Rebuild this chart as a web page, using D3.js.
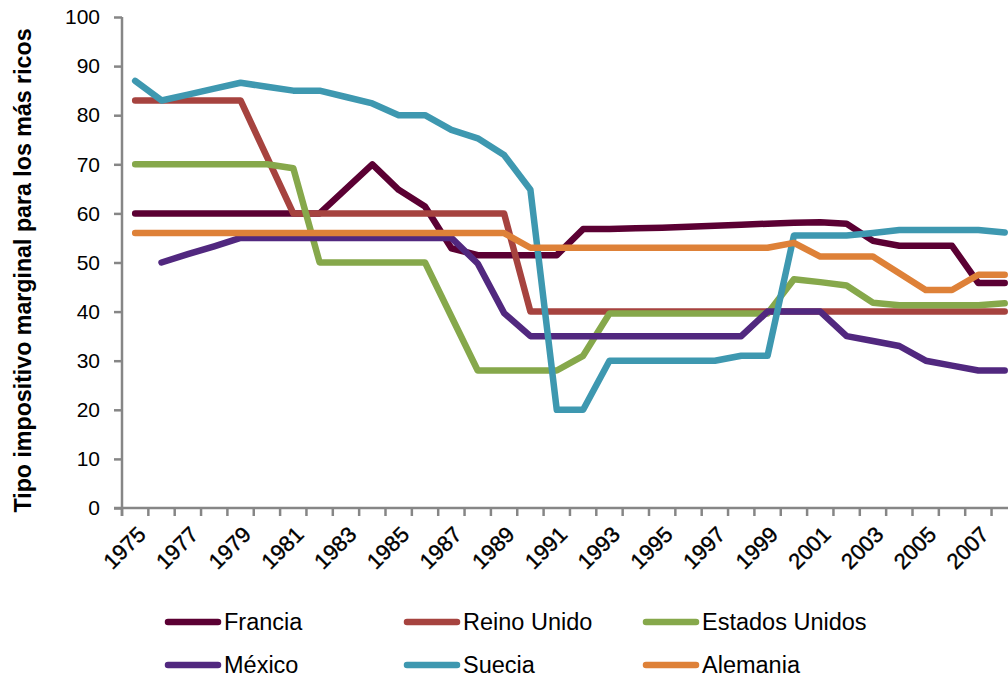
<!DOCTYPE html>
<html>
<head>
<meta charset="utf-8">
<script src="https://cdn.jsdelivr.net/npm/d3@7"></script>
<style>
  html, body { margin: 0; padding: 0; background: #fff; }
  svg { display: block; font-family: "Liberation Sans", Arial, sans-serif; }
</style>
</head>
<body>
<svg id="chart" width="1008" height="677"></svg>
<script>
var years = d3.range(1975, 2009);

// valores (tipo marginal maximo, %)
var francia = [60, 60, 60, 60, 60, 60, 60, 60, 65, 70, 64.8, 61.4, 52.9, 51.5, 51.5, 51.5, 51.5,
  56.8, 56.8, 57, 57.1, 57.3, 57.5, 57.7, 57.9, 58.1, 58.2, 57.9, 54.4, 53.4, 53.4, 53.4, 45.8, 45.8];
var reinoUnido = [83, 83, 83, 83, 83, 71.5, 60, 60, 60, 60, 60, 60, 60, 60, 60,
  40, 40, 40, 40, 40, 40, 40, 40, 40, 40, 40, 40, 40, 40, 40, 40, 40, 40, 40];
var estadosUnidos = [70, 70, 70, 70, 70, 70, 69.2, 50, 50, 50, 50, 50, 39, 28, 28, 28, 28,
  31, 39.6, 39.6, 39.6, 39.6, 39.6, 39.6, 39.6, 46.6, 46, 45.3, 41.8, 41.3, 41.3, 41.3, 41.3, 41.7];
var mexico = [null, 50, 51.7, 53.3, 55, 55, 55, 55, 55, 55, 55, 55, 55, 49.8, 39.7,
  35, 35, 35, 35, 35, 35, 35, 35, 35, 40, 40, 40, 35, 34, 33, 30, 29, 28, 28];
var suecia = [87, 83, 84.2, 85.4, 86.6, 85.8, 85, 85, 83.7, 82.4, 80, 80, 77, 75.3, 71.9, 64.8,
  20, 20, 30, 30, 30, 30, 30, 31, 31, 55.5, 55.5, 55.5, 56, 56.6, 56.6, 56.6, 56.6, 56.1];
var alemania = [56, 56, 56, 56, 56, 56, 56, 56, 56, 56, 56, 56, 56, 56, 56,
  53, 53, 53, 53, 53, 53, 53, 53, 53, 53, 54, 51.2, 51.2, 51.2, 47.8, 44.4, 44.4, 47.5, 47.5];

var seriesNames = ['Francia', 'Reino Unido', 'Estados Unidos', 'México', 'Suecia', 'Alemania'];
var seriesColors = ['#5b0033', '#a6433f', '#86a84b', '#51287f', '#3e98b0', '#de8138'];
var yTicks = d3.range(0, 101, 10);

(function () {
  var series = [francia, reinoUnido, estadosUnidos, mexico, suecia, alemania].map(function (vals, i) {
    return { name: seriesNames[i], color: seriesColors[i], values: vals };
  });

  var svg = d3.select('#chart'),
      plotLeft = 122,
      plotTop = 17,
      plotBottom = 508,
      axisColor = '#868686';

  // la ultima categoria queda cortada por el borde derecho, como en el original
  var x = d3.scaleBand()
    .domain(years)
    .range([plotLeft, plotLeft + years.length * 26.35])
    .paddingInner(0).paddingOuter(0);

  var y = d3.scaleLinear()
    .domain([0, 100])
    .range([plotBottom, plotTop]);

  // eje y
  var yAxis = svg.append('g')
    .attr('transform', 'translate(' + plotLeft + ',0)')
    .call(d3.axisLeft(y).tickValues(yTicks).tickSize(8).tickPadding(14));
  yAxis.select('.domain').remove();
  yAxis.selectAll('.tick line').attr('stroke', axisColor).attr('stroke-width', 2.5);
  yAxis.selectAll('.tick text')
    .attr('fill', '#000')
    .style('font-size', '21px')
    .style('font-family', '"Liberation Sans", Arial, sans-serif');
  yAxis.append('line')
    .attr('x1', 0).attr('x2', 0)
    .attr('y1', y(100)).attr('y2', plotBottom + 8)
    .attr('stroke', axisColor).attr('stroke-width', 2.5);

  // eje x (marcas entre categorias)
  var xAxis = svg.append('g');
  var boundaries = years.map(function (yr) { return x(yr); }).concat([x.range()[1]]);
  xAxis.append('line')
    .attr('x1', plotLeft - 8).attr('x2', x.range()[1])
    .attr('y1', plotBottom).attr('y2', plotBottom)
    .attr('stroke', axisColor).attr('stroke-width', 2.5);
  xAxis.selectAll('line.tick')
    .data(boundaries)
    .enter()
    .append('line')
    .attr('class', 'tick')
    .attr('x1', function (d) { return d; })
    .attr('x2', function (d) { return d; })
    .attr('y1', plotBottom)
    .attr('y2', plotBottom + 8)
    .attr('stroke', axisColor)
    .attr('stroke-width', 2.5);

  xAxis.selectAll('text')
    .data(years.filter(function (yr) { return yr % 2 === 1; }))
    .enter()
    .append('text')
    .attr('transform', function (d) {
      var cx = x(d) + x.bandwidth() / 2;
      return 'translate(' + (cx + 1) + ',' + (plotBottom + 17) + ') rotate(-45)';
    })
    .attr('text-anchor', 'end')
    .attr('dy', '0.7em')
    .style('font-size', '22px')
    .style('stroke', '#000')
    .style('stroke-width', 0.4)
    .text(function (d) { return d; });

  // titulo eje y
  svg.append('text')
    .attr('transform', 'translate(31,' + ((plotTop + plotBottom) / 2 + 8) + ') rotate(-90)')
    .attr('text-anchor', 'middle')
    .style('font-size', '23.2px')
    .style('font-weight', 'bold')
    .text('Tipo impositivo marginal para los más ricos');

  // lineas
  var line = d3.line()
    .defined(function (d) { return d != null; })
    .x(function (d, i) { return x(years[i]) + x.bandwidth() / 2; })
    .y(function (d) { return y(d); });

  svg.append('g')
    .selectAll('path')
    .data(series)
    .enter()
    .append('path')
    .attr('d', function (s) { return line(s.values); })
    .attr('fill', 'none')
    .attr('stroke', function (s) { return s.color; })
    .attr('stroke-width', 6.5)
    .attr('stroke-linejoin', 'round')
    .attr('stroke-linecap', 'round');

  // leyenda
  var legendCols = [166, 405, 644],
      legendRows = [622, 665];

  var legend = svg.append('g')
    .selectAll('g')
    .data(series)
    .enter()
    .append('g')
    .attr('transform', function (s, i) {
      return 'translate(' + legendCols[i % 3] + ',' + legendRows[Math.floor(i / 3)] + ')';
    });

  legend.append('line')
    .attr('x1', 2).attr('x2', 52)
    .attr('y1', 0).attr('y2', 0)
    .attr('stroke', function (s) { return s.color; })
    .attr('stroke-width', 6.5)
    .attr('stroke-linecap', 'round');

  legend.append('text')
    .attr('x', 58)
    .attr('y', 8)
    .style('font-size', '23.5px')
    .text(function (s) { return s.name; });
})();
</script>
</body>
</html>
